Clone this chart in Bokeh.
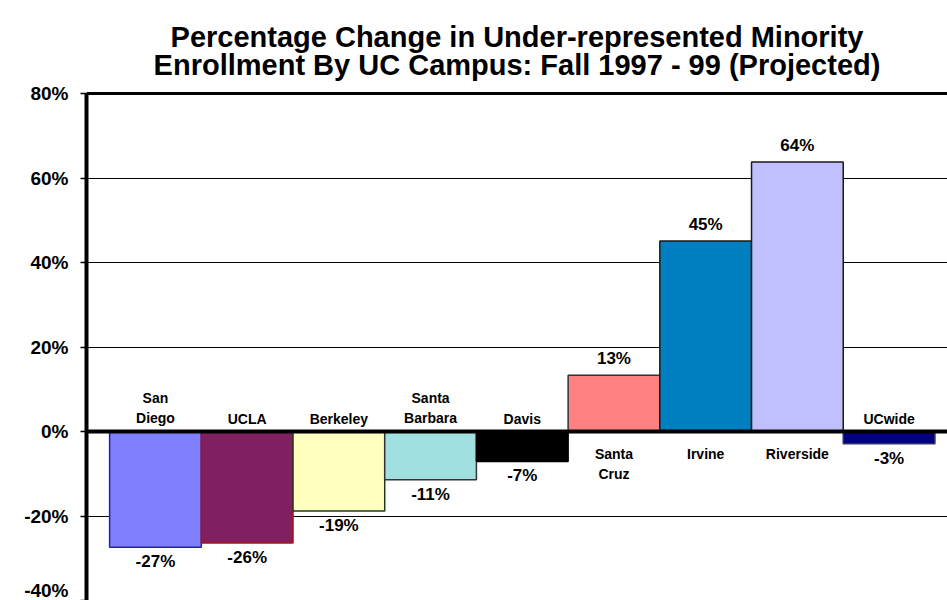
from bokeh.plotting import figure
from bokeh.models import Range1d, FixedTicker, PrintfTickFormatter, Span, ColumnDataSource, Label
from bokeh.core.properties import value
from bokeh.embed import file_html
from bokeh.resources import INLINE

# ---- data ----
campuses = ["San\nDiego", "UCLA", "Berkeley", "Santa\nBarbara", "Davis",
            "Santa\nCruz", "Irvine", "Riverside", "UCwide"]
changes = [-27.4, -26.4, -18.8, -11.4, -7.1, 13.3, 45.1, 63.8, -2.9]
fill_colors = ["#8080FF", "#802060", "#FFFFC0", "#A0E0E0", "#000000",
               "#FF8080", "#0080C0", "#C0C0FF", "#000080"]
line_colors = ["#2020B0", "#B01010", "#1E3A1E", "#333333", "#000000",
               "#333333", "#1A1A1A", "#1A1A1A", "#333366"]
y_ticks = [-40, -20, 0, 20, 40, 60, 80]
title_lines = ["Percentage Change in Under-represented Minority",
               "Enrollment By UC Campus: Fall 1997 - 99 (Projected)"]

FONT = "Liberation Sans"

# layout (pixels)
W, H = 947, 600
LEFT = 86          # frame left edge
AXIS_TOP_PX = 93   # where the 80% line sits
Y_MIN, Y_MAX = y_ticks[0], y_ticks[-1]
px_per_unit = (H - AXIS_TOP_PX) / (Y_MAX - Y_MIN)
y_end = Y_MAX + AXIS_TOP_PX / px_per_unit   # frame extends up to the top so the title can live inside it

xs = list(range(len(campuses)))
value_labels = ["%d%%" % round(v) for v in changes]

src = ColumnDataSource(dict(x=xs, top=changes, fill=fill_colors, line=line_colors,
                            cat=campuses, lab=value_labels))
neg_idx = [i for i, v in enumerate(changes) if v < 0]
pos_idx = [i for i, v in enumerate(changes) if v >= 0]
neg = ColumnDataSource(dict(x=[xs[i] for i in neg_idx], y=[changes[i] for i in neg_idx],
                            cat=[campuses[i] for i in neg_idx], lab=[value_labels[i] for i in neg_idx],
                            zero=[0] * len(neg_idx)))
pos = ColumnDataSource(dict(x=[xs[i] for i in pos_idx], y=[changes[i] for i in pos_idx],
                            cat=[campuses[i] for i in pos_idx], lab=[value_labels[i] for i in pos_idx],
                            zero=[0] * len(pos_idx)))

p = figure(width=W, height=H, output_backend="svg", toolbar_location=None, title=None,
           x_range=Range1d(-0.752, 8.637), y_range=Range1d(Y_MIN, y_end),
           min_border_left=LEFT, min_border_right=0, min_border_bottom=0, min_border_top=0)

p.outline_line_color = None
p.background_fill_color = "white"
p.border_fill_color = "white"

p.xaxis.visible = False
p.xgrid.visible = False

yax = p.yaxis[0]
yax.ticker = FixedTicker(ticks=y_ticks)
yax.bounds = (Y_MIN, Y_MAX)
yax.formatter = PrintfTickFormatter(format="%d%%")
yax.axis_line_width = 4
yax.axis_line_color = "black"
yax.major_tick_out = 6
yax.major_tick_in = 0
yax.major_tick_line_width = 1.5
yax.minor_tick_line_color = None
yax.major_label_text_font = FONT
yax.major_label_text_font_size = "19px"
yax.major_label_text_font_style = "bold"
yax.major_label_text_color = "black"
yax.major_label_standoff = 12

p.ygrid.ticker = FixedTicker(ticks=y_ticks)
p.ygrid.grid_line_color = "black"
p.ygrid.grid_line_width = 1.2

p.vbar(x="x", top="top", bottom=0, width=1.0, fill_color="fill", line_color="line",
       line_width=1.5, source=src)

p.add_layout(Span(location=0, dimension="width", line_color="black", line_width=4))
p.add_layout(Span(location=Y_MAX, dimension="width", line_color="black", line_width=3))

# title: two lines centred over the frame (screen units from frame bottom-left)
frame_w = W - LEFT
for line, baseline_px in zip(title_lines, [36, 64]):
    p.add_layout(Label(x=frame_w / 2, y=H - baseline_px, x_units="screen", y_units="screen",
                       text=line, text_align="center", text_baseline="alphabetic",
                       text_font=FONT, text_font_size="29px", text_font_style="bold",
                       text_color="black"))

# category labels
p.text(x="x", y="zero", text="cat", source=neg, text_align="center", text_baseline="bottom",
       y_offset=-5, text_font=value(FONT), text_font_size="14px", text_font_style="bold",
       text_line_height=1.3, text_color="black")
p.text(x="x", y="zero", text="cat", source=pos, text_align="center", text_baseline="top",
       y_offset=14, text_font=value(FONT), text_font_size="14px", text_font_style="bold",
       text_line_height=1.3, text_color="black")
# value labels
p.text(x="x", y="y", text="lab", source=neg, text_align="center", text_baseline="top",
       y_offset=5, text_font=value(FONT), text_font_size="17px", text_font_style="bold",
       text_color="black")
p.text(x="x", y="y", text="lab", source=pos, text_align="center", text_baseline="bottom",
       y_offset=-7, text_font=value(FONT), text_font_size="17px", text_font_style="bold",
       text_color="black")

open("out.html", "w").write(file_html(p, INLINE))
